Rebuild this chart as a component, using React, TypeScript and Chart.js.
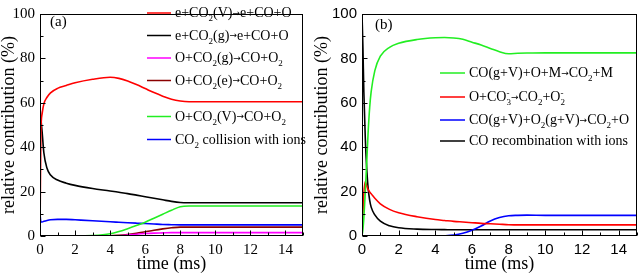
import React, { useEffect, useRef } from "react";
import { Chart, registerables } from "chart.js";
Chart.register(...registerables);

// ---------- DATA ----------
const timeA = [0, 0.05, 0.12, 0.22, 0.4, 0.6, 1, 1.5, 2, 3, 4, 4.5, 5, 5.5, 6, 6.5, 7, 7.5, 8, 8.5, 9, 10, 12, 15];
const eCO2V = [0, 46, 55, 59.5, 62.5, 64.5, 66.5, 67.8, 69, 70.6, 71.5, 71, 69.8, 68.2, 66.4, 64.6, 63, 61.6, 60.8, 60.5, 60.5, 60.5, 60.5, 60.5];
const eCO2g = [58, 53, 47, 37.5, 30.5, 27.5, 25.2, 23.8, 22.8, 21.4, 20.3, 19.7, 19.1, 18.4, 17.7, 17, 16.3, 15.6, 15.1, 15, 15, 15, 15, 15];
const OCO2g = [0, 0, 0, 0, 0, 0, 0, 0, 0, 0, 0, 0.1, 0.4, 0.8, 1.1, 1.3, 1.4, 1.5, 1.5, 1.5, 1.5, 1.5, 1.5, 1.5];
const OCO2e = [0, 0, 0, 0, 0, 0, 0, 0, 0, 0, 0.05, 0.3, 0.7, 1.2, 1.9, 2.6, 3.2, 3.7, 4.0, 4.0, 4.0, 4.0, 4.0, 4.0];
const OCO2V = [0, 0, 0, 0, 0, 0, 0, 0, 0, 0.2, 1.0, 2.0, 3.3, 4.7, 6.2, 8.0, 9.8, 11.6, 13.2, 13.5, 13.5, 13.5, 13.5, 13.5];
const CO2ions = [10, 6.4, 6.3, 6.6, 7.0, 7.3, 7.5, 7.5, 7.3, 6.9, 6.4, 6.2, 6.0, 5.8, 5.6, 5.4, 5.2, 5.1, 5.0, 5.0, 5.0, 5.0, 5.0, 5.0];
const namesA = [
  "e+CO_{2}(V)→e+CO+O",
  "e+CO_{2}(g)→e+CO+O",
  "O+CO_{2}(g)→CO+O_{2}",
  "O+CO_{2}(e)→CO+O_{2}",
  "O+CO_{2}(V)→CO+O_{2}",
  "CO_{2} collision with ions",
];

const timeB = [0, 0.05, 0.1, 0.18, 0.24, 0.33, 0.42, 0.5, 0.7, 1, 1.5, 2, 3, 4, 4.5, 5, 5.5, 6, 6.5, 7, 7.5, 8, 8.5, 9, 10, 12, 15];
const COOM = [0, 3, 8, 20, 30, 46, 58, 65, 74.5, 81, 85, 86.8, 88.5, 89.3, 89.4, 89.2, 88.6, 87.3, 86, 84.5, 83, 82.1, 82.3, 82.4, 82.5, 82.5, 82.5];
const OCO3 = [0, 10, 19, 24.5, 23, 21, 19.8, 19, 17, 14.5, 12, 10.5, 8.7, 7.4, 7.0, 6.6, 6.3, 6.0, 5.7, 5.5, 5.3, 5.1, 5.0, 5.0, 5.0, 5.0, 5.0];
const COO2 = [0, 0, 0, 0, 0, 0, 0, 0, 0, 0, 0, 0, 0, 0, 0.1, 0.4, 1.2, 2.6, 4.5, 6.8, 8.3, 9.1, 9.3, 9.4, 9.3, 9.3, 9.3];
const COrecomb = [100, 85, 65, 44, 33, 22, 16, 13, 9.5, 6.7, 4.6, 3.7, 3.1, 2.9, 2.85, 2.8, 2.8, 2.8, 2.8, 2.8, 2.8, 2.8, 2.8, 2.8, 2.8, 2.8, 2.8];
const namesB = [
  "CO(g+V)+O+M→CO_{2}+M",
  "O+CO_{3}^{-}→CO_{2}+O_{2}^{-}",
  "CO(g+V)+O_{2}(g+V)→CO_{2}+O",
  "CO recombination with ions",
];

const xTickValues = [0, 2, 4, 6, 8, 10, 12, 14];
const yTickValues = [0, 20, 40, 60, 80, 100];
const xTitle = "time (ms)";
const yTitle = "relative contribution (%)";

// ---------- STYLES ----------
const SERIF = "'Liberation Serif', 'Times New Roman', serif";
const SANS = "'Liberation Sans', Arial, sans-serif";
const colorsA = ["#ff0000", "#000000", "#ff00ff", "#8b0000", "#22ee22", "#0000ff"];
const colorsB = ["#22ee22", "#ff0000", "#0000ff", "#000000"];

function drawRich(ctx: CanvasRenderingContext2D, x: number, y: number, text: string, size: number, family: string) {
  const parts = text.split(/(_\{[^}]*\}\^\{[^}]*\}|_\{[^}]*\}|\^\{[^}]*\}|→)/g).filter((p) => p.length > 0);
  const small = Math.round(size * 0.62);
  let cx = x;
  ctx.textBaseline = "alphabetic";
  ctx.textAlign = "left";
  for (const p of parts) {
    let m;
    if (p === "→") {
      const as = Math.round(size * 0.62);
      ctx.font = `${as}px 'DejaVu Sans', sans-serif`;
      ctx.fillText(p, cx, y - size * 0.08);
      cx += ctx.measureText(p).width;
    } else if ((m = p.match(/^_\{([^}]*)\}\^\{([^}]*)\}$/))) {
      ctx.font = `${small}px ${family}`;
      const w1 = ctx.measureText(m[1]).width;
      const w2 = ctx.measureText(m[2]).width;
      ctx.fillText(m[1], cx, y + size * 0.32);
      ctx.fillText(m[2], cx, y - size * 0.38);
      cx += Math.max(w1, w2);
    } else if ((m = p.match(/^_\{([^}]*)\}$/))) {
      ctx.font = `${small}px ${family}`;
      ctx.fillText(m[1], cx, y + size * 0.32);
      cx += ctx.measureText(m[1]).width;
    } else if ((m = p.match(/^\^\{([^}]*)\}$/))) {
      ctx.font = `${small}px ${family}`;
      ctx.fillText(m[1], cx, y - size * 0.38);
      cx += ctx.measureText(m[1]).width;
    } else {
      ctx.font = `${size}px ${family}`;
      ctx.fillText(p, cx, y);
      cx += ctx.measureText(p).width;
    }
  }
}

type PanelCfg = {
  times: number[];
  series: number[][];
  names: string[];
  colors: string[];
  tickFont: string;
  yWidth: number;
  padding: { top: number; right: number; left: number; bottom: number };
  legend: { x0: number; x1: number; tx: number; ys: number[] };
  tag: string;
  tagPos: [number, number];
  yTitleX: number;
  xTitleY: number;
};

function makePlugin(cfg: PanelCfg) {
  return {
    id: "panelDecor",
    afterDraw(chart: any) {
      const ctx: CanvasRenderingContext2D = chart.ctx;
      const { left, right, top, bottom } = chart.chartArea;
      const xs = chart.scales.x;
      const ys = chart.scales.y;
      ctx.save();
      ctx.strokeStyle = "#000";
      ctx.lineWidth = 1;
      const L = Math.round(left) + 0.5, R = Math.round(right) - 0.5, T = Math.round(top) + 0.5, B = Math.round(bottom) - 0.5;
      ctx.strokeRect(L, T, R - L, B - T);
      ctx.beginPath();
      for (let v = 0; v <= 15; v += 1) {
        const px = Math.round(xs.getPixelForValue(v)) + 0.5;
        const len = v % 2 === 0 ? 5 : 3;
        ctx.moveTo(px, B);
        ctx.lineTo(px, B - len);
      }
      for (let v = 0; v <= 100; v += 10) {
        const py = Math.round(ys.getPixelForValue(v)) + 0.5;
        const len = v % 20 === 0 ? 5 : 3;
        ctx.moveTo(L, py);
        ctx.lineTo(L + len, py);
      }
      ctx.stroke();
      // axis titles
      ctx.fillStyle = "#000";
      ctx.font = `18px ${SERIF}`;
      ctx.textAlign = "center";
      ctx.textBaseline = "middle";
      ctx.fillText(xTitle, (left + right) / 2, cfg.xTitleY);
      ctx.save();
      ctx.translate(cfg.yTitleX, (top + bottom) / 2);
      ctx.rotate(-Math.PI / 2);
      ctx.fillText(yTitle, 0, 0);
      ctx.restore();
      // legend
      cfg.names.forEach((name, i) => {
        const y = cfg.legend.ys[i];
        ctx.strokeStyle = cfg.colors[i];
        ctx.lineWidth = 1.5;
        ctx.beginPath();
        ctx.moveTo(cfg.legend.x0, y);
        ctx.lineTo(cfg.legend.x1, y);
        ctx.stroke();
        ctx.fillStyle = "#000";
        drawRich(ctx, cfg.legend.tx, y + 4, name, 14, SERIF);
      });
      ctx.fillStyle = "#000";
      ctx.font = `15px ${SERIF}`;
      ctx.textBaseline = "middle";
      ctx.textAlign = "left";
      ctx.fillText(cfg.tag, cfg.tagPos[0], cfg.tagPos[1]);
      ctx.restore();
    },
  };
}

function Panel({ cfg, left, width }: { cfg: PanelCfg; left: number; width: number }) {
  const ref = useRef<HTMLCanvasElement>(null);
  useEffect(() => {
    const canvas = ref.current!;
    const chart = new Chart(canvas, {
      type: "line",
      data: {
        datasets: cfg.series.map((vals, i) => ({
          label: cfg.names[i],
          data: cfg.times.map((t, j) => ({ x: t, y: vals[j] })),
          borderColor: cfg.colors[i],
          backgroundColor: cfg.colors[i],
          borderWidth: 1.6,
          pointRadius: 0,
          cubicInterpolationMode: "monotone" as const,
          fill: false,
        })),
      },
      options: {
        animation: false,
        responsive: false,
        events: [],
        layout: { padding: cfg.padding, autoPadding: false },
        plugins: { legend: { display: false }, tooltip: { enabled: false } },
        scales: {
          x: {
            type: "linear",
            min: 0,
            max: 15,
            grid: { display: false, drawTicks: false },
            border: { display: false },
            afterBuildTicks: (s: any) => {
              s.ticks = xTickValues.map((v) => ({ value: v }));
            },
            afterFit: (s: any) => {
              s.height = 43;
            },
            ticks: {
              padding: 5,
              color: "#000",
              maxRotation: 0,
              autoSkip: false,
              font: { family: cfg.tickFont, size: 15, weight: 400 },
            },
            title: { display: false },
          },
          y: {
            type: "linear",
            min: 0,
            max: 100,
            grid: { display: false, drawTicks: false },
            border: { display: false },
            afterBuildTicks: (s: any) => {
              s.ticks = yTickValues.map((v) => ({ value: v }));
            },
            afterFit: (s: any) => {
              s.width = cfg.yWidth;
            },
            ticks: {
              padding: 5,
              color: "#000",
              autoSkip: false,
              font: { family: cfg.tickFont, size: 15, weight: 400 },
            },
            title: { display: false },
          },
        },
      },
      plugins: [makePlugin(cfg)],
    } as any);
    return () => chart.destroy();
  }, []);
  return (
    <canvas
      ref={ref}
      width={width}
      height={279}
      style={{ position: "absolute", left, top: 0, width, height: 279 }}
    />
  );
}

const cfgA: PanelCfg = {
  times: timeA,
  series: [eCO2V, eCO2g, OCO2g, OCO2e, OCO2V, CO2ions],
  names: namesA,
  colors: colorsA,
  tickFont: SERIF,
  yWidth: 40,
  padding: { top: 5, right: 15, left: 0, bottom: 0 },
  legend: { x0: 147, x1: 171, tx: 175, ys: [13, 35.5, 58, 80.5, 116.5, 139.5] },
  tag: "(a)",
  tagPos: [50, 22],
  yTitleX: 9,
  xTitleY: 264,
};

const cfgB: PanelCfg = {
  times: timeB,
  series: [COOM, OCO3, COO2, COrecomb],
  names: namesB,
  colors: colorsB,
  tickFont: SANS,
  yWidth: 50,
  padding: { top: 7, right: 1, left: 0, bottom: 0 },
  legend: { x0: 128, x1: 153, tx: 157, ys: [73, 97, 120, 141] },
  tag: "(b)",
  tagPos: [63, 25],
  yTitleX: 10,
  xTitleY: 264,
};

export default function App() {
  return (
    <div style={{ position: "fixed", left: 0, top: 0, width: 638, height: 279, background: "#fff" }}>
      <Panel cfg={cfgA} left={0} width={318} />
      <Panel cfg={cfgB} left={312} width={326} />
    </div>
  );
}
